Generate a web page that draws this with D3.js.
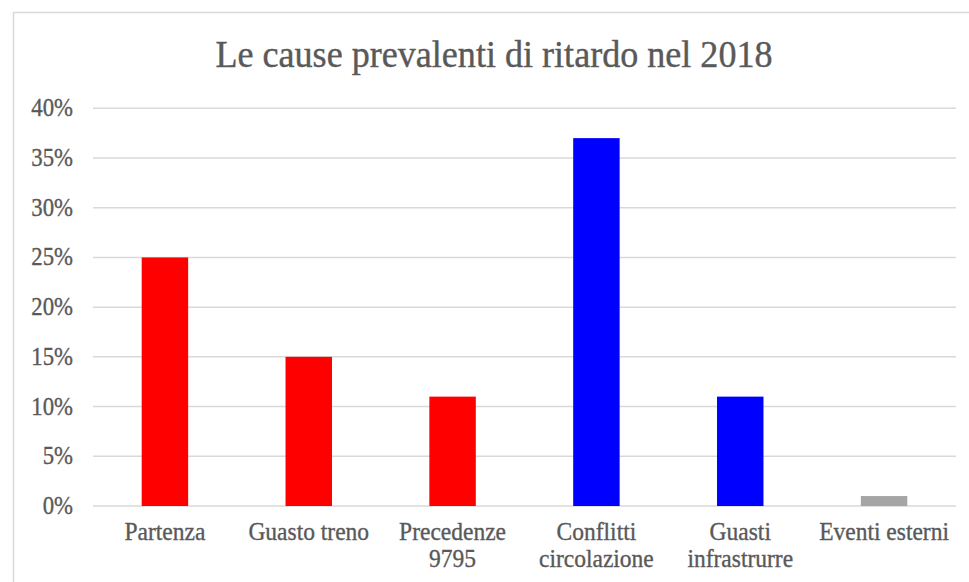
<!DOCTYPE html>
<meta charset="utf-8">
<head>
  <title>Le cause prevalenti di ritardo nel 2018</title>
</head>
<style>
body { margin: 0; background: #fff; }
</style>
<body>
<svg width="969" height="582"></svg>
<script src="https://cdnjs.cloudflare.com/ajax/libs/d3/7.8.5/d3.min.js"></script>
<script>
var categories = [["Partenza"], ["Guasto treno"], ["Precedenze", "9795"], ["Conflitti", "circolazione"], ["Guasti", "infrastrurre"], ["Eventi esterni"]];
var values = [0.25, 0.15, 0.11, 0.37, 0.11, 0.01];
var colors = ["#ff0000", "#ff0000", "#ff0000", "#0000ff", "#0000ff", "#a5a5a5"];
var ticks = [0, 0.05, 0.10, 0.15, 0.20, 0.25, 0.30, 0.35, 0.40];

var font = "'Liberation Serif', 'Times New Roman', serif";
var ink = '#595959';

var svg = d3.select('svg')
  .attr('font-family', font);

// chart frame (runs off the right and bottom edges)
svg.append('rect')
  .attr('x', 13.5).attr('y', 12.5)
  .attr('width', 1000).attr('height', 700)
  .attr('fill', 'none')
  .attr('stroke', '#d9d9d9')
  .attr('stroke-width', 1.5);

// text in the original is a bit narrow and heavy, so squeeze it sideways
function squeeze(sel, sx) {
  sel.attr('transform', function(){
    var x = +this.getAttribute('x');
    return 'translate(' + x + ',0) scale(' + sx + ',1) translate(' + (-x) + ',0)';
  });
}

svg.append('text')
  .attr('x', 494).attr('y', 67)
  .attr('text-anchor', 'middle')
  .attr('fill', ink)
  .attr('stroke', ink)
  .attr('stroke-width', 0.4)
  .attr('font-size', 38)
  .text('Le cause prevalenti di ritardo nel 2018')
  .call(squeeze, 0.95);

var x = d3.scaleBand()
  .domain(d3.range(categories.length))
  .range([93, 956])
  .paddingInner(0.677)
  .paddingOuter(0.3385);

var y = d3.scaleLinear().domain([0, 0.4]).range([506, 108.3]);

var g = svg.append('g');

g.selectAll('line.grid')
  .data(ticks)
  .enter()
  .append('line')
  .attr('class', 'grid')
  .attr('x1', 93).attr('x2', 956)
  .attr('y1', function(d){ return y(d); })
  .attr('y2', function(d){ return y(d); })
  .attr('stroke', '#d9d9d9')
  .attr('stroke-width', 1.5);

g.selectAll('text.tick')
  .data(ticks)
  .enter()
  .append('text')
  .attr('class', 'tick')
  .attr('x', 73)
  .attr('y', function(d){ return y(d) + 8; })
  .attr('text-anchor', 'end')
  .attr('fill', ink)
  .attr('stroke', ink)
  .attr('stroke-width', 0.35)
  .attr('font-size', 25)
  .text(function(d){ return d3.format('.0%')(d); })
  .call(squeeze, 0.91);

g.selectAll('rect.bar')
  .data(values)
  .enter()
  .append('rect')
  .attr('class', 'bar')
  .attr('x', function(d, i){ return x(i); })
  .attr('width', x.bandwidth())
  .attr('y', function(d){ return y(d); })
  .attr('height', function(d){ return y(0) - y(d); })
  .attr('fill', function(d, i){ return colors[i]; });

var labels = g.selectAll('text.cat')
  .data(categories)
  .enter()
  .append('text')
  .attr('class', 'cat')
  .attr('text-anchor', 'middle')
  .attr('fill', ink)
  .attr('stroke', ink)
  .attr('stroke-width', 0.35)
  .attr('font-size', 25)
  .attr('x', function(d, i){ return x(i) + x.bandwidth() / 2; })
  .attr('y', 540);

labels.selectAll('tspan')
  .data(function(d){ return d; })
  .enter()
  .append('tspan')
  .attr('x', function(){ return this.parentNode.getAttribute('x'); })
  .attr('dy', function(d, i){ return i === 0 ? 0 : 27.5; })
  .text(function(d){ return d; });

labels.call(squeeze, 0.94);
</script>
</body>
</html>
